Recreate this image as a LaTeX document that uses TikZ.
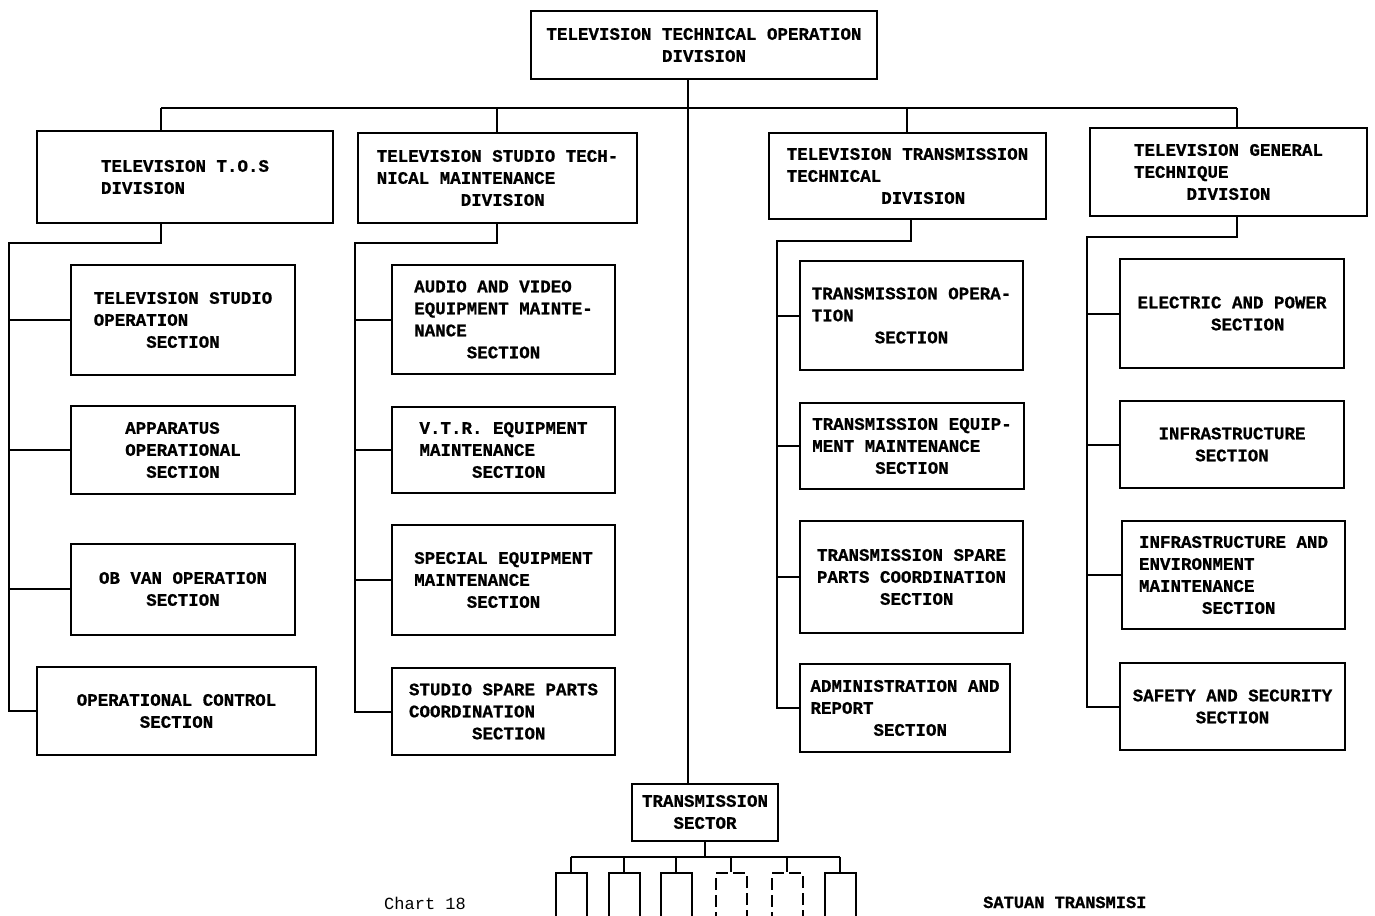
\documentclass[tikz,border=0pt]{standalone}
\usepackage{fontspec}
\newfontfamily\chartfont[BoldFeatures={FakeBold=0.8}]{Liberation Mono}
\usetikzlibrary{positioning,calc}
\newcommand{\pad}[1]{\hspace*{#1\dimexpr0.6em\relax}}

\begin{document}
\frenchspacing
\begin{tikzpicture}[
    x=1pt, y=-1pt,
    % Estilos
    box/.style={draw, line width=2pt, inner sep=0pt, align=left,
        font=\chartfont\bfseries\fontsize{17.5pt}{22pt}\selectfont},
    bsize/.style 2 args={minimum width=#1pt, minimum height=#2pt},
    unit/.style={draw, line width=2pt, minimum width=31pt, minimum height=120pt, inner sep=0pt},
    solidunit/.style={},
    dashunit/.style={dash pattern=on 12pt off 5pt},
    link/.style={line width=2pt},
    note/.style={anchor=base west, inner sep=0pt, font=\chartfont\fontsize{17pt}{20pt}\selectfont}
]
\useasboundingbox (0,0) rectangle (1375,915);
\clip (0,0) rectangle (1375,915);

% --- NODES ---
\node[box, bsize={346}{68}, align=center] (top) at (704,45) {TELEVISION TECHNICAL OPERATION\\DIVISION};

\node[box, bsize={296}{92}] (dtos) at (185,177)   {TELEVISION T.O.S\\DIVISION};
\node[box, bsize={279}{90}] (dstm) at (497.5,178) {TELEVISION STUDIO TECH-\\NICAL MAINTENANCE\\\pad{8}DIVISION};
\node[box, bsize={277}{86}] (dttd) at (907.5,176) {TELEVISION TRANSMISSION\\TECHNICAL\\\pad{9}DIVISION};
\node[box, bsize={277}{88}] (dgen) at (1228.5,172) {TELEVISION GENERAL\\TECHNIQUE\\\pad{5}DIVISION};

\node[box, bsize={224}{110}] (tos1) at (183,320)   {TELEVISION STUDIO\\OPERATION\\\pad{5}SECTION};
\node[box, bsize={224}{88}]  (tos2) at (183,450)   {APPARATUS\\OPERATIONAL\\\pad{2}SECTION};
\node[box, bsize={224}{91}, align=center] (tos3) at (183,589) {OB VAN OPERATION\\SECTION};
\node[box, bsize={279}{88}, align=center] (tos4) at (176.5,711) {OPERATIONAL CONTROL\\SECTION};

\node[box, bsize={223}{109}] (stm1) at (503.5,319.5) {AUDIO AND VIDEO\\EQUIPMENT MAINTE-\\NANCE\\\pad{5}SECTION};
\node[box, bsize={223}{86}]  (stm2) at (503.5,450)   {V.T.R. EQUIPMENT\\MAINTENANCE\\\pad{5}SECTION};
\node[box, bsize={223}{110}] (stm3) at (503.5,580)   {SPECIAL EQUIPMENT\\MAINTENANCE\\\pad{5}SECTION};
\node[box, bsize={223}{87}]  (stm4) at (503.5,711.5) {STUDIO SPARE PARTS\\COORDINATION\\\pad{6}SECTION};

\node[box, bsize={223}{109}] (ttd1) at (911.5,315.5) {TRANSMISSION OPERA-\\TION\\\pad{6}SECTION};
\node[box, bsize={224}{86}]  (ttd2) at (912,446)     {TRANSMISSION EQUIP-\\MENT MAINTENANCE\\\pad{6}SECTION};
\node[box, bsize={223}{112}] (ttd3) at (911.5,577)   {TRANSMISSION SPARE\\PARTS COORDINATION\\\pad{6}SECTION};
\node[box, bsize={210}{88}]  (ttd4) at (905,708)     {ADMINISTRATION AND\\REPORT\\\pad{6}SECTION};

\node[box, bsize={224}{109}] (gen1) at (1232,313.5)  {ELECTRIC AND POWER\\\pad{7}SECTION};
\node[box, bsize={224}{87}, align=center] (gen2) at (1232,444.5) {INFRASTRUCTURE\\SECTION};
\node[box, bsize={223}{108}] (gen3) at (1233.5,575)  {INFRASTRUCTURE AND\\ENVIRONMENT\\MAINTENANCE\\\pad{6}SECTION};
\node[box, bsize={225}{87}]  (gen4) at (1232.5,706.5) {SAFETY AND SECURITY\\\pad{6}SECTION};

\node[box, bsize={146}{57}, align=center] (sector) at (705,812) {TRANSMISSION\\SECTOR};

\foreach \i/\ux/\ls in {1/571/solidunit, 2/624/solidunit, 3/676/solidunit, 4/731/dashunit, 5/787/dashunit, 6/840/solidunit}
    \node[unit, \ls] (u\i) at (\ux,933) {};

% --- CONNECTIONS ---
\coordinate (trunk) at (688,108);
\coordinate (bus1) at (161,108);
\coordinate (bus2) at (497,108);
\coordinate (bus3) at (907,108);
\coordinate (bus4) at (1237,108);

\draw[link] (top.south -| trunk) -- (sector.north -| trunk);
\draw[link] (bus1) -- (bus4);
\draw[link] (bus1) -- (bus1 |- dtos.north);
\draw[link] (bus2) -- (bus2 |- dstm.north);
\draw[link] (bus3) -- (bus3 |- dttd.north);
\draw[link] (bus4) -- (bus4 |- dgen.north);

\foreach \col/\kx/\ky/\rx in {tos/161/243/9, stm/497/243/355, ttd/911/241/777, gen/1237/237/1087} {
    \coordinate (drop-\col) at (\kx,\ky);
    \coordinate (rail-\col) at (\rx,\ky);
    \draw[link] (d\col.south -| drop-\col) -- (drop-\col) -- (rail-\col) |- (\col4.west);
    \foreach \i in {1,2,3}
        \draw[link] (rail-\col |- \col\i.west) -- (\col\i.west);
}

\coordinate (sbus) at (0,857);
\draw[link] (sector.south) -- (sector.south |- sbus);
\draw[link] (u1.north |- sbus) -- (u6.north |- sbus);
\foreach \i in {1,...,6}
    \draw[link] (u\i.north |- sbus) -- (u\i.north);

% --- LABELS ---
\node[note] (chart) at (384,909) {Chart 18};
\node[note, font=\chartfont\bfseries\fontsize{17pt}{20pt}\selectfont] (satuan) at (983,908) {SATUAN TRANSMISI};

\end{tikzpicture}
\end{document}
